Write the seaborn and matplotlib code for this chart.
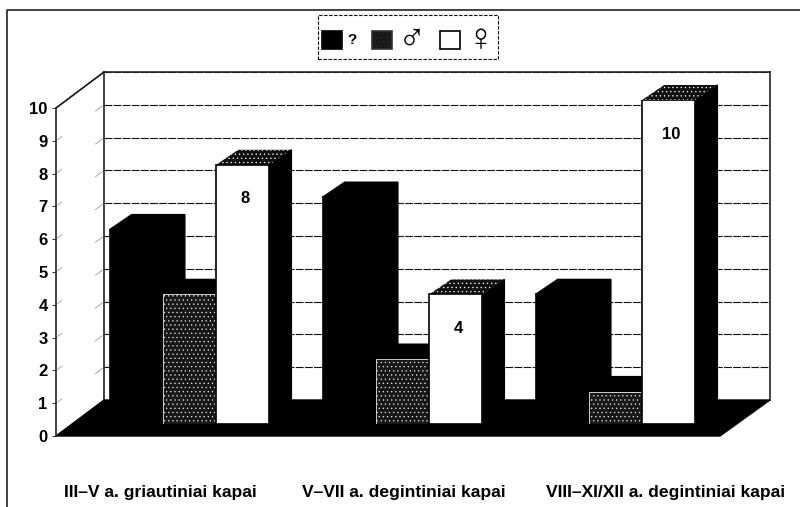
import matplotlib
matplotlib.use("Agg")
import matplotlib.pyplot as plt
import pandas as pd
import seaborn as sns
from matplotlib.lines import Line2D
from matplotlib.patches import Polygon

groups = ["III\u2013V a. griautiniai kapai", "V\u2013VII a. degintiniai kapai", "VIII\u2013XI/XII a. degintiniai kapai"]
unknown = [6, 7, 4]
male = [4, 2, 1]
female = [8, 4, 10]
sex_names = ["?", "\u2642", "\u2640"]
y_ticks = list(range(11))

W, H = 800, 507
DX, DY = 22, 15  # depth of a bar in pixels

df = pd.DataFrame({"group": groups * 3,
                   "count": unknown + male + female,
                   "sex": [s for s in sex_names for _ in groups]})

sns.set_theme(style="white")
plt.rcParams["font.family"] = ["Liberation Sans", "DejaVu Sans"]
plt.rcParams["hatch.linewidth"] = 0.4

fig = plt.figure(figsize=(W / 100, H / 100), dpi=100)


def rect(left, top, right, bottom):
    return [left / W, 1 - bottom / H, (right - left) / W, (bottom - top) / H]


def fx(x, y):
    return x / W, 1 - y / H


# outer frame, only left and top survive the scan
fig.add_artist(Line2D([7 / W, 7 / W, 1], [0, 1 - 10 / H, 1 - 10 / H], color="#222222", lw=1.2))

# back wall with the gridlines
ax_back = fig.add_axes(rect(104, 72, 770, 400), zorder=1)
ax_back.set_ylim(0, 10)
ax_back.set_xlim(0, 1)
ax_back.set_yticks(y_ticks)
ax_back.set_xticks([])
ax_back.tick_params(left=False, labelleft=False)
ax_back.set_axisbelow(True)
ax_back.grid(axis="y", color="#111111", lw=0.8, ls=(0, (7, 1.2)))
ax_back.spines["bottom"].set_visible(False)
for s in ["left", "top", "right"]:
    ax_back.spines[s].set_color("#222222")
    ax_back.spines[s].set_linewidth(1.2)

# floor
floor = [fx(56, 436), fx(104, 400), fx(770, 400), fx(720, 436)]
ax_back.add_patch(Polygon(floor, closed=True, transform=fig.transFigure, facecolor="black",
                          edgecolor="black", clip_on=False, zorder=3))

# front plane holds the value axis
ax_front = fig.add_axes(rect(56, 108, 720, 436), zorder=2)
ax_front.patch.set_alpha(0)
ax_front.set_ylim(0, 10)
ax_front.set_yticks(y_ticks)
ax_front.set_xticks([])
ax_front.tick_params(axis="y", left=True, length=3, width=0.7, color="#333333", pad=3)
for label in ax_front.get_yticklabels():
    label.set_fontsize(12)
    label.set_fontweight("bold")
    label.set_color("black")
sns.despine(ax=ax_front, top=True, right=True, bottom=True)
ax_front.spines["left"].set_color("#222222")
ax_front.spines["left"].set_linewidth(1.2)

# side wall: diagonal top edge plus the faint tick dashes
fig.canvas.draw()
inv = fig.transFigure.inverted()
for v in y_ticks:
    p0 = inv.transform(ax_front.transData.transform((0, v)))
    p1 = inv.transform(ax_back.transData.transform((0, v)))
    d = p1 - p0
    if v == 10:
        fig.add_artist(Line2D([p0[0], p1[0]], [p0[1], p1[1]], color="#111111", lw=1.2))
    elif v > 0:
        for a, b in [(0.03, 0.12), (0.82, 0.97)]:
            fig.add_artist(Line2D([p0[0] + a * d[0], p0[0] + b * d[0]], [p0[1] + a * d[1], p0[1] + b * d[1]],
                                  color="#888888", lw=0.5))

# bars stand a little behind the front edge of the floor
ax_bars = fig.add_axes(rect(83, 100, 722, 424), zorder=4)
ax_bars.patch.set_alpha(0)
sns.barplot(data=df, x="group", y="count", hue="sex", hue_order=sex_names, order=groups,
            palette={"?": "black", "\u2642": "#181818", "\u2640": "white"},
            saturation=1, width=0.75, gap=0, edgecolor="black", linewidth=1.2, ax=ax_bars)
ax_bars.set_ylim(0, 10)
ax_bars.set_xlim(-0.5, 2.5)
ax_bars.set_xlabel("")
ax_bars.set_ylabel("")
ax_bars.set_yticks([])
ax_bars.set_xticks([-0.138, 1.007, 2.233])
ax_bars.set_xticklabels(groups, fontsize=12.6, fontweight="bold", color="black")
ax_bars.tick_params(axis="x", bottom=False, pad=38)
sns.despine(ax=ax_bars, left=True, bottom=True)

# depth faces, built from where the library put each bar
fig.canvas.draw()
for i, container in enumerate(ax_bars.containers):
    for bar in container:
        bar.set_zorder(5 + 2 * i + 1)
        box = bar.get_window_extent()
        x0, x1, y1 = box.x0, box.x1, box.y1
        y0 = box.y0
        side = [(x1, y0), (x1 + DX, y0 + DY), (x1 + DX, y1 + DY), (x1, y1)]
        top = [(x0, y1), (x0 + DX, y1 + DY), (x1 + DX, y1 + DY), (x1, y1)]
        ax_bars.add_patch(Polygon(side, closed=True, transform=None, facecolor="black", edgecolor="black",
                                  clip_on=False, zorder=5 + 2 * i))
        if i == 2:
            ax_bars.add_patch(Polygon(top, closed=True, transform=None, facecolor="#111111", edgecolor="white",
                                      hatch="....", lw=0, clip_on=False, zorder=5 + 2 * i))
        else:
            ax_bars.add_patch(Polygon(top, closed=True, transform=None, facecolor="black", edgecolor="black",
                                      clip_on=False, zorder=5 + 2 * i))

for bar in ax_bars.containers[1]:
    bar.set_hatch("....")
    bar.set_edgecolor("#e8e8e8")
    bar.set_linewidth(0.6)

labels = ax_bars.bar_label(ax_bars.containers[2], fmt="%g", padding=-30, fontsize=12, fontweight="bold", color="black")
for t in labels:
    t.set_zorder(20)
    t.xyann = (2, t.xyann[1])

# legend
sns.move_legend(ax_bars, "center", bbox_to_anchor=fx(408, 37), bbox_transform=fig.transFigure,
                ncol=3, title=None, frameon=True, fancybox=False, fontsize=14,
                handlelength=1.03, handleheight=1.03, handletextpad=0.3, columnspacing=0.75,
                borderpad=0.2, borderaxespad=0, framealpha=1, edgecolor="black")
leg = ax_bars.get_legend()
leg.get_frame().set_linestyle((0, (3, 1.5)))
leg.get_frame().set_linewidth(0.8)
leg.set_zorder(30)
leg.legend_handles[1].set_hatch("....")
leg.legend_handles[1].set_edgecolor("#333333")
for t, size, weight in zip(leg.get_texts(), [11, 27, 27], ["bold", "normal", "normal"]):
    t.set_fontsize(size)
    t.set_fontweight(weight)
    t.set_color("black")
leg.get_texts()[0].set_y(3)
leg.get_texts()[1].set_y(-3)
leg.get_texts()[2].set_y(-3)

fig.savefig("out.png", dpi=100)
